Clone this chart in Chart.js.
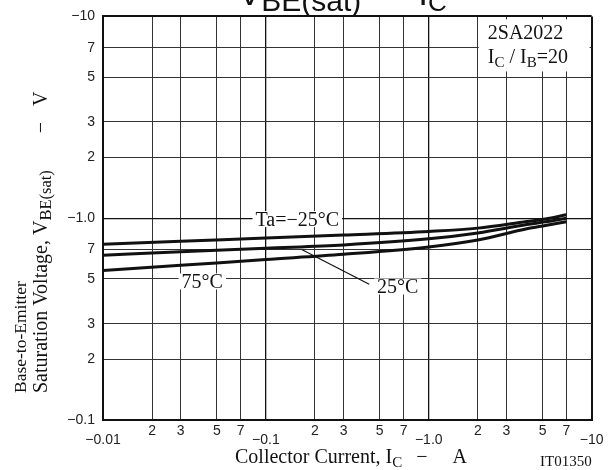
<!DOCTYPE html>
<html lang="en">
<head>
<meta charset="UTF-8">
<title>VBE(sat) - IC</title>
<script src="https://cdn.jsdelivr.net/npm/chart.js@4"></script>
<style>
  html, body { margin:0; padding:0; background:#fff; }
  #wrap { width:610px; height:470px; }
  canvas { display:block; }
</style>
</head>
<body>
<div id="wrap"><canvas id="chart" width="610" height="470"></canvas></div>
<script>
// collector current (A, magnitude) and VBE(sat) (V, magnitude)
const currentA = [0.01, 0.03, 0.1, 0.3, 1, 2, 4, 5.2, 7];
const vbeTaM25 = [0.743, 0.769, 0.797, 0.825, 0.86, 0.893, 0.963, 0.99, 1.04];
const vbeTa25  = [0.656, 0.681, 0.710, 0.737, 0.79, 0.845, 0.93, 0.96, 1.00];
const vbeTa75  = [0.55, 0.584, 0.624, 0.662, 0.72, 0.78, 0.886, 0.92, 0.96];

// axis ticks
const xTicks = [0.01, 0.02, 0.03, 0.05, 0.07, 0.1, 0.2, 0.3, 0.5, 0.7, 1, 2, 3, 5, 7, 10];
const xTickLabels = ['−0.01','2','3','5','7','−0.1','2','3','5','7','−1.0','2','3','5','7','−10'];
const yTicks = [0.1, 0.2, 0.3, 0.5, 0.7, 1, 2, 3, 5, 7, 10];
const yTickLabels = ['−0.1','2','3','5','7','−1.0','2','3','5','7','−10'];

// curve labels, placed in data units
const curveNotes = [
  { text: 'Ta=−25°C', x: 0.156, y: 0.99 },
  { text: '75°C', x: 0.0407, y: 0.486 },
  { text: '25°C', x: 0.645, y: 0.459 }
];
const leader = { from: [0.167, 0.697], to: [0.431, 0.471] };

const SERIF = '"Liberation Serif", "Times New Roman", serif';
const SANS = '"Liberation Sans", Arial, sans-serif';
const INK = '#111';

const isDecade = v => Math.abs(Math.log10(v) - Math.round(Math.log10(v))) < 1e-6;

// text made of runs: [text, size, dy, family, gapBefore]
function drawRuns(ctx, x, y, runs) {
  let cx = x;
  runs.forEach(([t, size, dy, fam, gap]) => {
    cx += gap || 0;
    ctx.font = `${size}px ${fam}`;
    ctx.fillText(t, cx, y + dy);
    cx += ctx.measureText(t).width;
  });
}

const notes = {
  id: 'notes',
  afterDraw(chart) {
    const { ctx, chartArea: a, scales: { x, y } } = chart;
    ctx.save();
    ctx.textBaseline = 'alphabetic';
    ctx.textAlign = 'left';

    // curve labels on white
    ctx.font = `20px ${SERIF}`;
    curveNotes.forEach(n => {
      const px = x.getPixelForValue(n.x), py = y.getPixelForValue(n.y);
      const w = ctx.measureText(n.text).width;
      ctx.fillStyle = '#fff';
      ctx.fillRect(px - w / 2 - 3, py - 8, w + 6, 16);
      ctx.fillStyle = INK;
      ctx.fillText(n.text, px - w / 2, py + 7);
    });

    // leader line for 25°C
    ctx.strokeStyle = INK;
    ctx.lineWidth = 1.2;
    ctx.beginPath();
    ctx.moveTo(x.getPixelForValue(leader.from[0]), y.getPixelForValue(leader.from[1]));
    ctx.lineTo(x.getPixelForValue(leader.to[0]), y.getPixelForValue(leader.to[1]));
    ctx.stroke();

    // part number box
    const bx = x.getPixelForValue(2) + 1;
    ctx.fillStyle = '#fff';
    ctx.fillRect(bx, a.top + 3, a.right - 2 - bx, 52);
    ctx.fillStyle = INK;
    ctx.font = `20px ${SERIF}`;
    ctx.fillText('2SA2022', bx + 9, a.top + 23);
    drawRuns(ctx, bx + 9, a.top + 47, [
      ['I', 20, 0, SERIF], ['C', 15, 4, SERIF], [' / I', 20, 0, SERIF], ['B', 15, 4, SERIF], ['=20', 20, 0, SERIF]
    ]);

    // title (cut by the top edge)
    drawRuns(ctx, 238, 5, [
      ['V', 35, 0, SANS], ['BE(sat)', 30, 6, SANS], ['—', 35, 0, SANS, 11], ['I', 35, 0, SANS, 11], ['C', 26, 6, SANS]
    ]);

    // x axis title
    drawRuns(ctx, 235, 463, [
      ['Collector Current, I', 20, 0, SERIF], ['C', 15, 4, SERIF], ['−', 20, 0, SERIF, 14], ['A', 20, 0, SERIF, 25]
    ]);

    ctx.font = `15px ${SERIF}`;
    ctx.textAlign = 'right';
    ctx.fillText('IT01350', a.right, 466);
    ctx.textAlign = 'left';

    // y axis title, two rotated lines read from the bottom
    ctx.save();
    ctx.translate(0, 393);
    ctx.rotate(-Math.PI / 2);
    drawRuns(ctx, 0, 26, [['Base-to-Emitter', 17.5, 0, SERIF]]);
    drawRuns(ctx, 0, 47, [
      ['Saturation Voltage, V', 20, 0, SERIF], ['BE(sat)', 16.5, 4, SERIF], ['−', 20, 0, SERIF, 37], ['V', 20, 0, SERIF, 16]
    ]);
    ctx.restore();

    ctx.restore();
  }
};

const gridWidth = c => {
  const s = c.scale, v = c.tick ? c.tick.value : 0;
  if (v === s.min || v === s.max) return 2;
  return isDecade(v) ? 1.3 : 1;
};
const gridColor = c => (c.tick && isDecade(c.tick.value)) ? '#111' : '#333';

const curve = values => currentA.map((v, i) => ({ x: v, y: values[i] }));
const lineStyle = { borderColor: INK, borderWidth: 3, pointRadius: 0, fill: false, cubicInterpolationMode: 'monotone' };

new Chart(document.getElementById('chart'), {
  type: 'line',
  data: {
    datasets: [
      { label: 'Ta=-25°C', data: curve(vbeTaM25), ...lineStyle },
      { label: 'Ta=25°C', data: curve(vbeTa25), ...lineStyle },
      { label: 'Ta=75°C', data: curve(vbeTa75), ...lineStyle }
    ]
  },
  options: {
    responsive: false,
    animation: false,
    layout: { padding: { top: 12, right: 17, left: 0, bottom: 0 } },
    plugins: { legend: { display: false }, tooltip: { enabled: false } },
    scales: {
      x: {
        type: 'logarithmic',
        min: 0.01, max: 10,
        afterBuildTicks: s => { s.ticks = xTicks.map(v => ({ value: v })); },
        afterFit: s => { s.height = 50; },
        grid: { color: gridColor, lineWidth: gridWidth, drawTicks: false },
        border: { display: true, color: INK, width: 2 },
        ticks: {
          autoSkip: false, maxRotation: 0, minRotation: 0, padding: 6.5,
          color: '#222',
          font: { family: SANS, size: 14, lineHeight: 0.65 },
          callback: (v, i) => {
            const t = xTickLabels[i];
            return t.startsWith('−') ? ['', t] : t;
          }
        }
      },
      y: {
        type: 'logarithmic',
        min: 0.1, max: 10,
        afterBuildTicks: s => { s.ticks = yTicks.map(v => ({ value: v })); },
        afterFit: s => { s.width = 103; },
        grid: { color: gridColor, lineWidth: gridWidth, drawTicks: false },
        border: { display: true, color: INK, width: 2 },
        ticks: {
          autoSkip: false, padding: 8,
          color: '#222',
          font: { family: SANS, size: 14 },
          callback: (v, i) => yTickLabels[i]
        }
      }
    }
  },
  plugins: [notes]
});
</script>
</body>
</html>
